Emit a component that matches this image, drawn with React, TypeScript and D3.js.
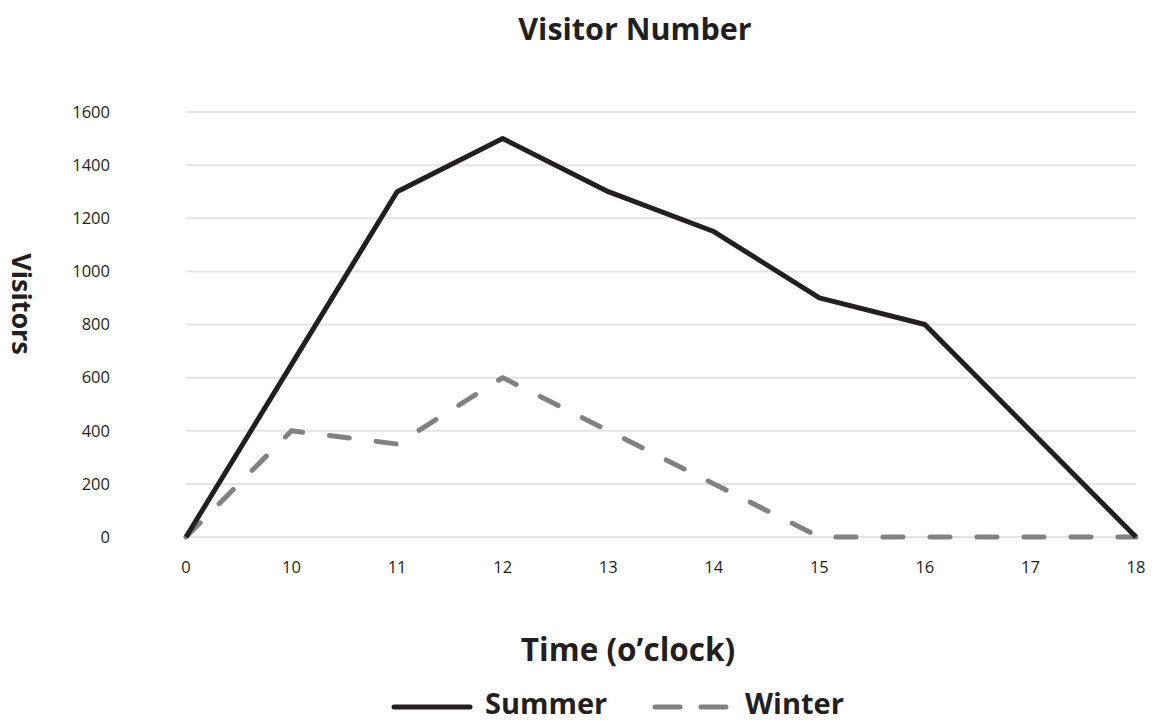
import React from "react";
import * as d3 from "d3";

const hours = ["0", "10", "11", "12", "13", "14", "15", "16", "17", "18"];
const summer = [0, 650, 1300, 1500, 1300, 1150, 900, 800, 400, 0];
const winter = [0, 400, 350, 600, 400, 200, 0, 0, 0, 0];
const yTicks = [0, 200, 400, 600, 800, 1000, 1200, 1400, 1600];

const W = 1159;
const H = 723;
const FONT = "'Open Sans', Lato, sans-serif";
const TFONT = "'Open Sans', sans-serif";

export default function App() {
  const x = d3.scalePoint<string>().domain(hours).range([186, 1136]);
  const y = d3.scaleLinear().domain([0, 1600]).range([537, 112]);
  const line = d3
    .line<number>()
    .x((_, i) => x(hours[i]) as number)
    .y((d) => y(d));

  return (
    <svg
      width={W}
      height={H}
      style={{ position: "absolute", left: 0, top: 0, background: "#fff" }}
    >
      <text x={635} y={40} textAnchor="middle" fontFamily={TFONT} fontWeight={700} fontSize={30.5} fill="#231f20">
        Visitor Number
      </text>
      {yTicks.map((t) => (
        <g key={t}>
          <line x1={186} x2={1136} y1={y(t)} y2={y(t)} stroke="#e4e4e4" strokeWidth={2} />
          <text x={110} y={y(t)} dy="0.35em" textAnchor="end" fontFamily={FONT} fontSize={16.5} fill="#231f20">
            {t}
          </text>
        </g>
      ))}
      {hours.map((h) => (
        <text key={h} x={x(h)} y={573} textAnchor="middle" fontFamily={FONT} fontSize={16.5} fill="#231f20">
          {h}
        </text>
      ))}
      <text
        transform={`translate(12,304) rotate(90)`}
        textAnchor="middle"
        fontFamily={TFONT}
        fontWeight={700}
        fontSize={27}
        fill="#231f20"
      >
        Visitors
      </text>
      <path d={line(winter) || ""} fill="none" stroke="#818181" strokeWidth={5} strokeDasharray="20 27" strokeLinecap="round" strokeLinejoin="round" />
      <path d={line(summer) || ""} fill="none" stroke="#231f20" strokeWidth={5} strokeLinejoin="round" />
      <text x={628} y={661} textAnchor="middle" fontFamily={TFONT} fontWeight={700} fontSize={31.5} fill="#231f20">
        Time (o’clock)
      </text>
      <line x1={394} x2={470} y1={707} y2={707} stroke="#231f20" strokeWidth={5} strokeLinecap="round" />
      <text x={485} y={714} fontFamily={TFONT} fontWeight={700} fontSize={29} fill="#231f20">
        Summer
      </text>
      <line x1={655} x2={730} y1={707} y2={707} stroke="#818181" strokeWidth={5} strokeDasharray="25 21" strokeLinecap="round" />
      <text x={745} y={714} fontFamily={TFONT} fontWeight={700} fontSize={29} fill="#231f20">
        Winter
      </text>
    </svg>
  );
}
